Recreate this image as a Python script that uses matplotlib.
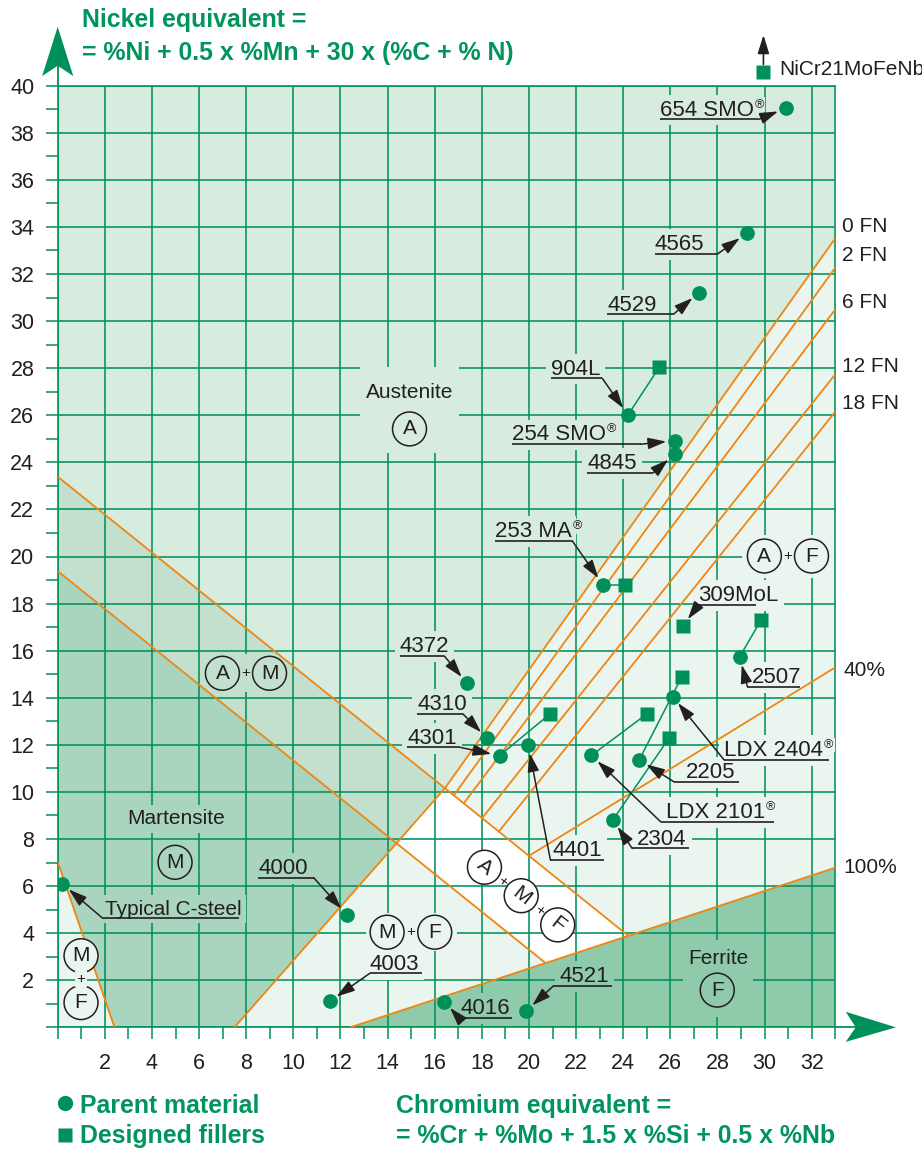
import matplotlib
matplotlib.use("Agg")
import matplotlib.pyplot as plt
from matplotlib.patches import Polygon, Circle, Rectangle, ArrowStyle

plt.rcParams['font.family'] = ['Liberation Sans', 'DejaVu Sans']

# ---------------- data (Cr equivalent, Ni equivalent) ----------------
parent_names = ["Typical C-steel", "4000", "4003", "4016", "4521", "4372", "4310",
                "4301", "4401", "253 MA", "254 SMO", "4845", "904L", "4529", "4565",
                "654 SMO", "LDX 2101", "2304", "2205", "LDX 2404", "2507"]
parent_cr = [0.20, 12.28, 11.54, 16.41, 19.88, 17.37, 18.22, 18.75, 19.97, 23.15, 26.18,
             26.18, 24.20, 27.21, 29.24, 30.90, 22.65, 23.56, 24.68, 26.10, 28.94]
parent_ni = [6.09, 4.77, 1.10, 1.09, 0.69, 14.61, 12.28, 11.54, 11.99, 18.79, 24.92,
             24.35, 26.01, 31.21, 33.73, 39.04, 11.55, 8.81, 11.36, 14.05, 15.74]

filler_names = ["4301 filler", "253 MA filler", "904L filler", "309MoL", "2507 filler",
                "2205 filler", "LDX 2101 filler", "2304 filler"]
filler_cr = [20.89, 24.07, 25.53, 26.53, 29.85, 26.49, 25.00, 25.94]
filler_ni = [13.31, 18.79, 28.04, 17.05, 17.30, 14.90, 13.31, 12.28]
filler_links = ["4301", "253 MA", "904L", None, "2507", "2205", "LDX 2101", "2304"]

offscale_filler = "NiCr21MoFeNb"
offscale_cr = 29.95
offscale_ni = 40.57

# phase boundary lines
line_upper = [(0.0, 23.39), (24.2, 3.90)]
line_lower = [(0.0, 19.38), (20.63, 2.79)]
line_mf = [(0.0, 7.03), (2.41, 0.0)]
line_mart = [(7.5, 0.0), (15.25, 8.81)]
line_100 = [(12.42, 0.0), (33.0, 6.78)]
fn_names = ["0 FN", "2 FN", "6 FN", "12 FN", "18 FN"]
fn_start_cr = [16.44, 16.81, 17.23, 18.01, 18.72]
fn_end_ni = [33.52, 32.27, 30.50, 27.74, 26.15]
pct40_start_cr = 20.0
pct40_end_ni = 15.29

x_ticks = list(range(0, 33, 2))
x_tick_labels = [''] + [str(v) for v in x_ticks[1:]]
y_ticks = list(range(0, 41, 2))
y_tick_labels = [''] + [str(v) for v in y_ticks[1:]]

# ---------------- styles ----------------
GREEN = '#00915a'
TXT_GREEN = '#00955c'
ORANGE = '#ee8612'
INK = '#231f20'
C_A = '#d8ebdf'
C_AM = '#c3e0cf'
C_M = '#a9d4bd'
C_L = '#ebf5ef'
C_F = '#8fcaab'
C_W = '#ffffff'
LABEL_FS = 16


def y_on(line, x):
    (x0, y0), (x1, y1) = line
    return y0 + (y1 - y0) * (x - x0) / (x1 - x0)


def isect(l1, l2):
    (a0, b0), (a1, b1) = l1
    (c0, d0), (c1, d1) = l2
    m1 = (b1 - b0) / (a1 - a0)
    m2 = (d1 - d0) / (c1 - c0)
    x = (d0 - m2 * c0 - b0 + m1 * a0) / (m1 - m2)
    return (x, b0 + m1 * (x - a0))


fig = plt.figure(figsize=(9.22, 11.49), dpi=100)
ax = fig.add_axes([57.7 / 922, 1 - 1027.3 / 1149, 777.6 / 922, 941.6 / 1149])
ax.set_xlim(0, 33)
ax.set_ylim(0, 40)
ax.set_facecolor(C_L)

P0 = isect(line_mart, line_upper)
P1 = isect(line_mart, line_lower)
P2 = isect(line_upper, line_100)
P3 = isect(line_lower, line_100)

regions = [
    ([(0, 40), (33, 40), (33, fn_end_ni[0]), P0, line_upper[0]], C_A),
    ([line_upper[0], P0, P1, line_lower[0]], C_AM),
    ([line_lower[0], P1, line_mart[0], line_mf[1], line_mf[0]], C_M),
    ([P0, P2, P3, P1], C_W),
    ([line_100[0], line_100[1], (33, 0)], C_F),
]
for verts, col in regions:
    ax.add_patch(Polygon(verts, closed=True, fc=col, ec='none', zorder=0.5))

# grid / ticks
ax.set_xticks(x_ticks)
ax.set_xticklabels(x_tick_labels)
ax.set_xticks(range(1, 34, 2), minor=True)
ax.set_yticks(y_ticks)
ax.set_yticklabels(y_tick_labels)
ax.set_yticks(range(1, 40, 2), minor=True)
ax.tick_params(which='both', direction='out', length=8.8, width=1.1, color=GREEN)
ax.tick_params(axis='x', which='major', pad=9.5, labelsize=15.5, labelcolor=INK)
ax.tick_params(axis='y', which='major', pad=8.0, labelsize=15.5, labelcolor=INK)
ax.set_axisbelow('line')
ax.grid(which='major', color=GREEN, lw=1.15)
for s in ax.spines.values():
    s.set_color(GREEN)
    s.set_linewidth(1.15)

# orange boundary lines
olw = 1.3
segs = [
    (line_upper[0], P2), (line_lower[0], P3), (line_mf[0], line_mf[1]),
    (line_mart[0], P0), (line_100[0], line_100[1]),
    ((pct40_start_cr, y_on(line_upper, pct40_start_cr)), (33, pct40_end_ni)),
]
for i, xs in enumerate(fn_start_cr):
    start = P0 if i == 0 else (xs, y_on(line_upper, xs))
    segs.append((start, (33, fn_end_ni[i])))
for a, b in segs:
    ax.plot([a[0], b[0]], [a[1], b[1]], color=ORANGE, lw=olw, zorder=3,
            solid_capstyle='butt')

# right side labels
fn_label_y = [34.01, 32.77, 30.81, 28.08, 26.48]
for name, yy in zip(fn_names, fn_label_y):
    ax.text(33.3, yy, name, fontsize=15, color=INK, va='center', ha='left')
ax.text(33.35, 15.15, "40%", fontsize=15, color=INK, va='center', ha='left')
ax.text(33.35, 6.77, "100%", fontsize=15, color=INK, va='center', ha='left')

# phase labels
R = 0.72


def phase_circle(x, y, letter, bg, rot=0):
    ax.add_patch(Circle((x, y), R, fc=bg, ec=INK, lw=1.1, zorder=4))
    ax.text(x, y, letter, fontsize=15, color=INK, ha='center', va='center',
            rotation=rot, rotation_mode='anchor', zorder=4.5)


def plus(x, y, bg=None, rot=0):
    kw = {}
    if bg is not None:
        kw['bbox'] = dict(fc=bg, ec='none', pad=1)
    ax.text(x, y, '+', fontsize=11, color=INK, ha='center', va='center',
            rotation=rot, zorder=4.5, **kw)


ax.add_patch(Rectangle((12.85, 24.4), 4.2, 3.65, fc=C_A, ec='none', zorder=2.2))
ax.text(14.93, 26.97, "Austenite", fontsize=15, color=INK, ha='center', va='center', zorder=4.5)
phase_circle(14.93, 25.42, 'A', C_A)

ax.add_patch(Rectangle((29.05, 19.1), 3.88, 1.8, fc=C_L, ec='none', zorder=2.2))
phase_circle(29.99, 20.02, 'A', C_L)
phase_circle(31.99, 20.02, 'F', C_L)
plus(30.99, 20.02)

ax.add_patch(Rectangle((6.99, 14.26), 2.0, 1.6, fc=C_AM, ec='none', zorder=2.2))
phase_circle(6.99, 15.04, 'A', C_AM)
phase_circle(8.99, 15.04, 'M', C_AM)
plus(7.99, 15.04)

ax.text(5.03, 8.85, "Martensite", fontsize=15, color=INK, ha='center', va='center',
        zorder=4.5, bbox=dict(fc=C_M, ec='none', pad=3))
phase_circle(4.98, 7.01, 'M', C_M)

ax.add_patch(Rectangle((13.1, 3.25), 3.85, 1.6, fc=C_L, ec='none', zorder=2.2))
phase_circle(13.98, 4.04, 'M', C_L)
phase_circle(16.0, 4.04, 'F', C_L)
plus(14.99, 4.04)

phase_circle(0.99, 3.04, 'M', C_L)
phase_circle(0.99, 1.05, 'F', C_L)
plus(0.99, 2.05, bg=C_L)

ax.add_patch(Rectangle((26.55, 0.45), 2.95, 3.25, fc=C_F, ec='none', zorder=2.2))
ax.text(28.04, 2.93, "Ferrite", fontsize=15, color=INK, ha='center', va='center', zorder=4.5)
phase_circle(27.99, 1.58, 'F', C_F)

rot = -38
amf = [(18.11, 6.80, 'A'), (19.67, 5.59, 'M'), (21.22, 4.35, 'F')]
for x, y, l in amf:
    phase_circle(x, y, l, C_W, rot=rot)
plus((18.11 + 19.67) / 2, (6.80 + 5.59) / 2, rot=rot)
plus((19.67 + 21.22) / 2, (5.59 + 4.35) / 2, rot=rot)

# points
pos = {n: (x, y) for n, x, y in zip(parent_names, parent_cr, parent_ni)}
fpos = {n: (x, y) for n, x, y in zip(filler_names, filler_cr, filler_ni)}
for n, x, y, link in zip(filler_names, filler_cr, filler_ni, filler_links):
    if link is not None:
        px, py = pos[link]
        ax.plot([px, x], [py, y], color=GREEN, lw=1.1, zorder=4.8)
ax.plot(parent_cr, parent_ni, 'o', color=GREEN, ms=10.6, mec='none', zorder=5)
ax.plot(filler_cr, filler_ni, 's', color=GREEN, ms=10.6, mec='none', zorder=5)
ax.plot([offscale_cr], [offscale_ni], 's', color=GREEN, ms=10.6, mec='none',
        zorder=5, clip_on=False)
ax.annotate('', xy=(offscale_cr, 42.15), xytext=(offscale_cr, 40.9),
            arrowprops=dict(arrowstyle=ArrowStyle('-|>', head_length=0.8, head_width=0.25),
                            mutation_scale=14, lw=1.2, color=INK, shrinkA=0, shrinkB=0),
            annotation_clip=False, zorder=6)
ax.text(30.61, 40.67, offscale_filler, fontsize=15, color=INK, ha='left', va='center')

# labels with underline + arrow  (text, registered mark?, layout..., target, bg, size)
label_layout = [
    ("654 SMO", True, 25.54, 38.57, 25.54, 29.74, 'R', "654 SMO", C_A, LABEL_FS),
    ("4565", False, 25.33, 32.85, 25.33, 28.00, 'R', "4565", C_A, LABEL_FS),
    ("4529", False, 23.32, 30.29, 23.32, 26.13, 'R', "4529", C_A, LABEL_FS),
    ("904L", False, 20.94, 27.57, 20.94, 23.11, 'R', "904L", C_A, LABEL_FS),
    ("254 SMO", True, 19.29, 24.77, 19.29, 24.74, 'R', "254 SMO", C_A, LABEL_FS),
    ("4845", False, 22.47, 23.56, 22.47, 25.28, 'R', "4845", C_A, LABEL_FS),
    ("253 MA", True, 18.55, 20.66, 18.55, 21.84, 'R', "253 MA", C_A, LABEL_FS),
    ("309MoL", False, 27.19, 17.94, 27.19, 29.62, 'L', "309MoL", C_L, LABEL_FS),
    ("2507", False, 29.48, 14.47, 29.27, 31.51, 'L', "2507", C_L, LABEL_FS),
    ("LDX 2404", True, 28.28, 11.36, 28.28, 32.74, 'L', "LDX 2404", C_L, LABEL_FS),
    ("2205", False, 26.65, 10.43, 26.15, 28.91, 'L', "2205", C_L, LABEL_FS),
    ("LDX 2101", True, 25.80, 8.73, 25.59, 30.40, 'L', "LDX 2101", C_L, LABEL_FS),
    ("2304", False, 24.60, 7.60, 24.38, 26.79, 'L', "2304", C_L, LABEL_FS),
    ("4401", False, 20.98, 7.11, 20.91, 23.18, 'L', "4401", C_L, LABEL_FS),
    ("4301", False, 14.83, 11.89, 14.83, 17.09, 'R', "4301", C_A, LABEL_FS),
    ("4310", False, 15.25, 13.31, 15.25, 17.20, 'R', "4310", C_A, LABEL_FS),
    ("4372", False, 14.51, 15.77, 14.51, 16.41, 'R', "4372", C_A, LABEL_FS),
    ("4000", False, 8.52, 6.36, 8.52, 10.86, 'R', "4000", C_M, LABEL_FS),
    ("4003", False, 13.24, 2.29, 13.24, 15.46, 'L', "4003", C_L, LABEL_FS),
    ("Typical C-steel", False, 2.01, 4.63, 1.91, 7.71, 'L', "Typical C-steel", C_M, 15),
    ("4016", False, 17.09, 0.41, 17.02, 19.28, 'L', "4016", C_F, LABEL_FS),
    ("4521", False, 21.31, 1.77, 21.05, 23.53, 'L', "4521", C_F, LABEL_FS),
]
astyle = ArrowStyle('-|>', head_length=0.8, head_width=0.25)
reg_texts = []
for txt, reg, tx, uy, u0, u1, side, tgt, bg, fs in label_layout:
    t = ax.text(tx, uy + 0.16, txt, fontsize=fs, color=INK, ha='left', va='baseline',
                zorder=2.5, bbox=dict(fc=bg, ec='none', pad=3.5))
    if reg:
        reg_texts.append((t, uy, bg))
    ax.plot([u0, u1], [uy, uy], color=INK, lw=1.2, zorder=6, solid_capstyle='butt')
    start = (u1, uy) if side == 'R' else (u0, uy)
    target = pos.get(tgt, fpos.get(tgt))
    ax.annotate('', xy=target, xytext=start,
                arrowprops=dict(arrowstyle=astyle, mutation_scale=14, lw=1.1, color=INK,
                                shrinkA=0, shrinkB=6),
                zorder=6)

# small superscript registered marks placed right after the text
renderer = fig.canvas.get_renderer()
inv = ax.transData.inverted()
for t, uy, bg in reg_texts:
    bb = t.get_window_extent(renderer)
    xd, _ = inv.transform((bb.x1 + 1.0, bb.y0))
    ax.text(xd, uy + 0.50, "\u00ae", fontsize=9, color=INK, ha='left', va='baseline',
            zorder=2.6, bbox=dict(fc=bg, ec='none', pad=1))

# axis arrows
ax.plot([0, 0], [40, 41.2], color=GREEN, lw=1.3, clip_on=False, zorder=6)
ax.add_patch(Polygon([(0, 42.5), (0.66, 40.41), (0, 40.85), (-0.66, 40.41)],
                     closed=True, fc=GREEN, ec='none', clip_on=False, zorder=6))
ax.plot([33, 34.0], [0, 0], color=GREEN, lw=1.3, clip_on=False, zorder=6)
ax.add_patch(Polygon([(35.57, 0), (33.44, 0.66), (33.87, 0), (33.44, -0.62)],
                     closed=True, fc=GREEN, ec='none', clip_on=False, zorder=6))

# titles and legend


def fy(py):
    return 1 - py / 1149


TFS = 17.9
fig.text(82 / 922, fy(27.5), "Nickel equivalent =", fontsize=TFS, fontweight='bold',
         color=TXT_GREEN, ha='left', va='baseline')
fig.text(82 / 922, fy(60), "= %Ni + 0.5 x %Mn + 30 x (%C + % N)", fontsize=TFS,
         fontweight='bold', color=TXT_GREEN, ha='left', va='baseline')
fig.text(396 / 922, fy(1112.7), "Chromium equivalent =", fontsize=TFS, fontweight='bold',
         color=TXT_GREEN, ha='left', va='baseline')
fig.text(396 / 922, fy(1142.7), "= %Cr + %Mo + 1.5 x %Si + 0.5 x %Nb", fontsize=TFS,
         fontweight='bold', color=TXT_GREEN, ha='left', va='baseline')
fig.text(80 / 922, fy(1112.7), "Parent material", fontsize=TFS, fontweight='bold',
         color=TXT_GREEN, ha='left', va='baseline')
fig.text(80 / 922, fy(1142.7), "Designed fillers", fontsize=TFS, fontweight='bold',
         color=TXT_GREEN, ha='left', va='baseline')
fig.lines.append(plt.Line2D([65.3 / 922], [fy(1103.3)], marker='o', ms=11, color=GREEN,
                            mec='none', transform=fig.transFigure))
fig.lines.append(plt.Line2D([65.3 / 922], [fy(1135)], marker='s', ms=10.6, color=GREEN,
                            mec='none', transform=fig.transFigure))

fig.savefig("out.png", dpi=100)
